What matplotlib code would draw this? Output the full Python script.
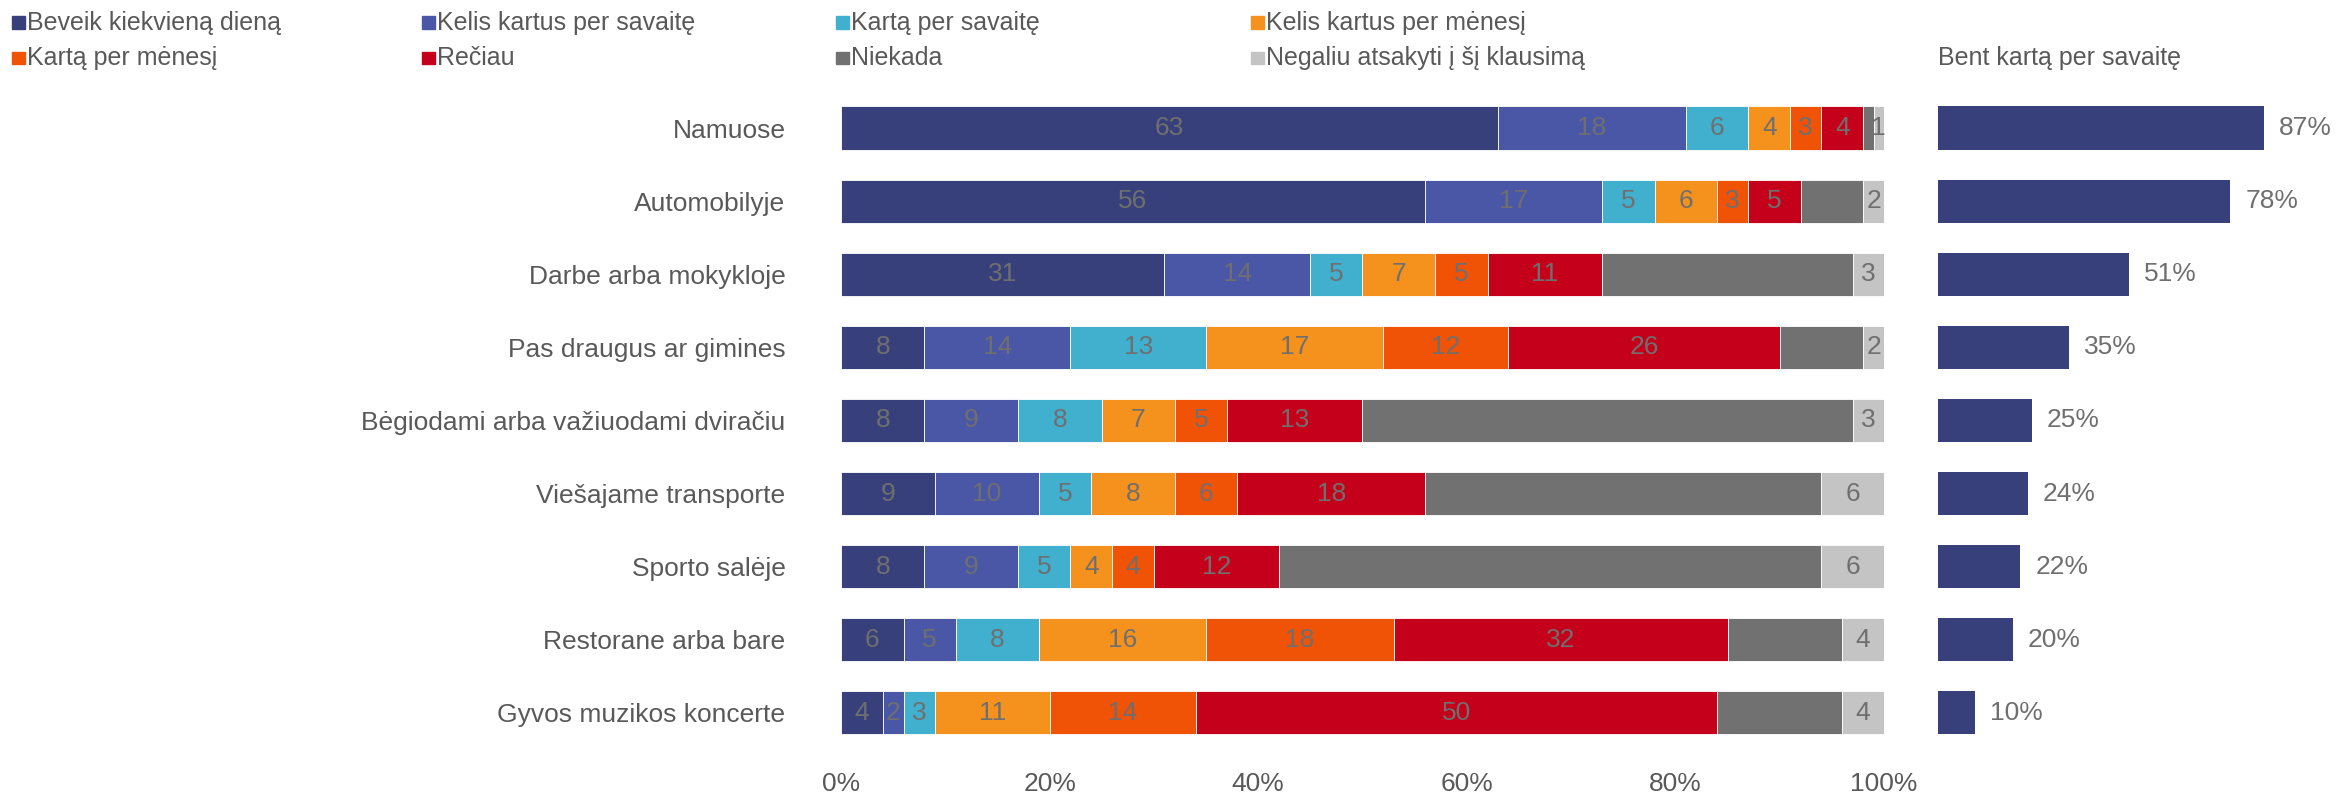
import numpy as np
import matplotlib
matplotlib.use('Agg')
import matplotlib.pyplot as plt
from matplotlib.patches import Rectangle

# categories (top to bottom)
places = ['Namuose', 'Automobilyje', 'Darbe arba mokykloje', 'Pas draugus ar gimines',
          'Bėgiodami arba važiuodami dviračiu', 'Viešajame transporte', 'Sporto salėje',
          'Restorane arba bare', 'Gyvos muzikos koncerte']

series_names = ['Beveik kiekvieną dieną', 'Kelis kartus per savaitę', 'Kartą per savaitę',
                'Kelis kartus per mėnesį', 'Kartą per mėnesį', 'Rečiau', 'Niekada',
                'Negaliu atsakyti į šį klausimą']

beveik = [63, 56, 31, 8, 8, 9, 8, 6, 4]
kelis_sav = [18, 17, 14, 14, 9, 10, 9, 5, 2]
karta_sav = [6, 5, 5, 13, 8, 5, 5, 8, 3]
kelis_men = [4, 6, 7, 17, 7, 8, 4, 16, 11]
karta_men = [3, 3, 5, 12, 5, 6, 4, 18, 14]
reciau = [4, 5, 11, 26, 13, 18, 12, 32, 50]
niekada = [1, 6, 24, 8, 47, 38, 52, 11, 12]
negaliu = [1, 2, 3, 2, 3, 6, 6, 4, 4]

bent_karta = [87, 78, 51, 35, 25, 24, 22, 20, 10]

colors = ['#37407a', '#4a56a6', '#41b0ce', '#f5921e', '#f05206', '#c5001a', '#717171', '#c4c4c4']
label_series = [True, True, True, True, True, True, False, True]
txt_gray = '#6f6f6f'

plt.rcParams['font.family'] = ['Liberation Sans', 'DejaVu Sans']

fig = plt.figure(figsize=(23.38, 7.93), dpi=100)

ax = fig.add_axes([0.3597, 0.0549, 0.4461, 0.8297])
ax2 = fig.add_axes([0.8289, 0.0549, 0.1604, 0.8297])

data = [beveik, kelis_sav, karta_sav, kelis_men, karta_men, reciau, niekada, negaliu]
y = np.arange(len(places))
left = np.zeros(len(places))
for vals, col, lab in zip(data, colors, label_series):
    vals = np.array(vals, dtype=float)
    ax.barh(y, vals, left=left, height=0.59, color=col, edgecolor='white', linewidth=0.6)
    if lab:
        for yi, (l, v) in enumerate(zip(left, vals)):
            ax.text(l + v / 2, yi, f'{int(v)}', ha='center', va='center',
                    fontsize=19, color=txt_gray)
    left += vals

ax.set_xlim(0, 100)
ax.set_ylim(len(places) - 0.5, -0.5)
ax.set_yticks(y)
ax.set_yticklabels(places, fontsize=19, color='#595959')
ax.set_xticks([0, 20, 40, 60, 80, 100])
ax.set_xticklabels(['0%', '20%', '40%', '60%', '80%', '100%'], fontsize=19, color='#595959')
ax.tick_params(axis='y', length=0, pad=40)
ax.tick_params(axis='x', length=0, pad=16)
for s in ax.spines.values():
    s.set_visible(False)

# right chart
ax2.barh(y, bent_karta, height=0.59, color=colors[0])
for yi, v in enumerate(bent_karta):
    ax2.text(v + 4, yi, f'{v}%', ha='left', va='center', fontsize=19, color=txt_gray)
ax2.set_xlim(0, 100)
ax2.set_ylim(len(places) - 0.5, -0.5)
ax2.set_xticks([])
ax2.set_yticks([])
for s in ax2.spines.values():
    s.set_visible(False)
fig.text(0.8289, 0.927, 'Bent kartą per savaitę', fontsize=18, color='#595959',
         ha='left', va='center')

# legend, laid out in 4 columns x 2 rows
col_x = [0.0051, 0.1805, 0.3576, 0.5351]
row_y = [0.9715, 0.927]
for i, (name, col) in enumerate(zip(series_names, colors)):
    r, c = divmod(i, 4)
    fig.add_artist(Rectangle((col_x[c], row_y[r] - 0.008), 0.0055, 0.016,
                             transform=fig.transFigure, color=col))
    fig.text(col_x[c] + 0.0065, row_y[r], name, fontsize=18, color='#595959',
             ha='left', va='center')

fig.savefig('out.png', dpi=100)
